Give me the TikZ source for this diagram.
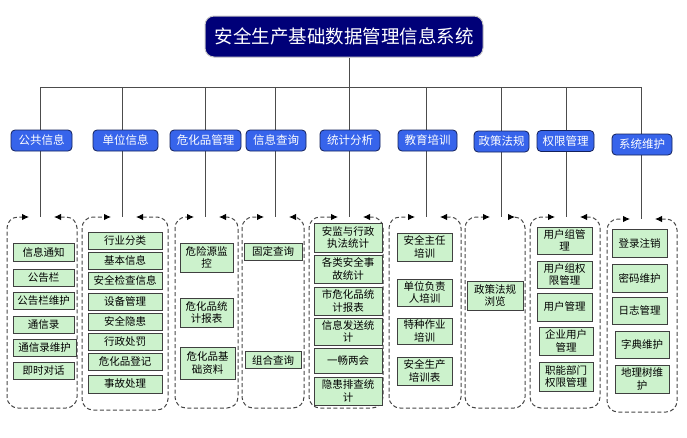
\documentclass[tikz,border=0pt]{standalone}
\usepackage{fontspec}
\setmainfont{Noto Sans CJK SC}
\newfontfamily\hei{Noto Sans CJK SC}
\usetikzlibrary{arrows.meta}
\definecolor{navy}{RGB}{0,0,120}
\definecolor{catf}{RGB}{55,100,235}
\definecolor{catb}{RGB}{20,33,90}
\definecolor{ibf}{RGB}{204,242,204}
\newcommand\grpbox[6]{%
  \coordinate (#1) at (#6,#4);
  \draw[grp] (#6+14,#4) -- (#3,#4) -- (#3,#5) -- (#2,#5) -- (#2,#4) -- (#6-11,#4);}
\begin{document}
\begin{tikzpicture}[x=1pt,y=-1pt,
  ttl/.style={draw=gray!45, line width=1pt, fill=navy, rounded corners=9pt, text=white,
    font=\fontsize{18.5}{20}\selectfont, minimum width=278pt, minimum height=41pt, inner sep=0pt},
  cat/.style={draw=catb, line width=0.8pt, fill=catf, rounded corners=4pt, text=white,
    font=\hei\fontsize{11.5}{13}\selectfont, minimum height=21pt, inner sep=0pt},
  ib/.style={draw=black!75, line width=0.8pt, fill=ibf, font=\fontsize{10.5}{12.5}\selectfont,
    align=center, inner sep=0pt},
  conn/.style={draw=black!70, line width=0.9pt},
  grp/.style={draw=black!72, line width=1pt, dash pattern=on 4pt off 2.5pt, rounded corners=11pt,
    {Latex[length=7pt,width=6.5pt,black]}-{Latex[length=7pt,width=6.5pt,black]}}
]
\useasboundingbox (0,0) rectangle (687,437);
% title
\node[ttl] (ttl) at (344,36.5) {安全生产基础数据管理信息系统};
\coordinate (hj) at (349,87);
\draw[conn] (ttl.south -| hj) -- (hj);
% horizontal bus
\foreach \i/\x in {1/40,2/122,3/205,4/275,5/349,6/426,7/501,8/566,9/641}
  \coordinate (h\i) at (\x,87);
\draw[conn] (h1) -- (h9);
% groups
\grpbox{g1}{7}{77}{217}{408}{40}
\grpbox{g2}{82}{168}{217}{410}{122}
\grpbox{g3}{175}{238}{217}{408}{205}
\grpbox{g4}{242}{304}{217}{408}{275}
\grpbox{g5}{309}{383}{217}{408}{349}
\grpbox{g6}{389}{461}{217}{408}{426}
\grpbox{g7}{465}{525}{217}{408}{501}
\grpbox{g8}{530}{600}{217}{408}{566}
\grpbox{g9}{607}{677}{219}{412}{641}
\foreach \i in {1,...,9} \draw[conn] (h\i) -- (g\i);
% categories
\node[cat, minimum width=61pt] (c1) at (41.5,140.5) {公共信息};
\node[cat, minimum width=65pt] (c2) at (125.5,140.5) {单位信息};
\node[cat, minimum width=71pt] (c3) at (205.5,140.5) {危化品管理};
\node[cat, minimum width=60pt] (c4) at (276,140.5) {信息查询};
\node[cat, minimum width=60pt] (c5) at (350,140.5) {统计分析};
\node[cat, minimum width=59pt] (c6) at (427.5,140.5) {教育培训};
\node[cat, minimum width=55pt] (c7) at (501.5,141.5) {政策法规};
\node[cat, minimum width=57pt] (c8) at (565.5,141) {权限管理};
\node[cat, minimum width=60pt] (c9) at (642,144.5) {系统维护};
% group 1
\node[ib, minimum width=61pt, minimum height=18pt] (a1) at (43.5,252) {信息通知};
\node[ib, minimum width=61pt, minimum height=17pt] (a2) at (43.5,277.5) {公告栏};
\node[ib, minimum width=61pt, minimum height=17pt] (a3) at (43.5,301) {公告栏维护};
\node[ib, minimum width=61pt, minimum height=17pt] (a4) at (43.5,324.5) {通信录};
\node[ib, minimum width=63pt, minimum height=17pt] (a5) at (44.5,347.5) {通信录维护};
\node[ib, minimum width=61pt, minimum height=17pt] (a6) at (43.5,371) {即时对话};
% group 2
\node[ib, minimum width=74pt, minimum height=17pt] (b1) at (125,240.5) {行业分类};
\node[ib, minimum width=74pt, minimum height=17pt] (b2) at (125,260.5) {基本信息};
\node[ib, minimum width=74pt, minimum height=17pt] (b3) at (125,280.5) {安全检查信息};
\node[ib, minimum width=74pt, minimum height=17pt] (b4) at (125,301.5) {设备管理};
\node[ib, minimum width=74pt, minimum height=17pt] (b5) at (125,321.5) {安全隐患};
\node[ib, minimum width=74pt, minimum height=17pt] (b6) at (125,342) {行政处罚};
\node[ib, minimum width=74pt, minimum height=17pt] (b7) at (125,362) {危化品登记};
\node[ib, minimum width=74pt, minimum height=18pt] (b8) at (125,384) {事故处理};
% group 3
\node[ib, minimum width=53pt, minimum height=29pt] (d1) at (206.5,257.5) {危险源监\\控};
\node[ib, minimum width=53pt, minimum height=29pt] (d2) at (206.5,312.5) {危化品统\\计报表};
\node[ib, minimum width=55pt, minimum height=32pt] (d3) at (207.5,363) {危化品基\\础资料};
% group 4
\node[ib, minimum width=58pt, minimum height=17pt] (e1) at (273,251.5) {固定查询};
\node[ib, minimum width=56pt, minimum height=17pt] (e2) at (273,360) {组合查询};
% group 5
\node[ib, minimum width=68pt, minimum height=29pt] (f1) at (348,237.5) {安监与行政\\执法统计};
\node[ib, minimum width=68pt, minimum height=28pt] (f2) at (348,269) {各类安全事\\故统计};
\node[ib, minimum width=68pt, minimum height=28pt] (f3) at (348,301) {市危化品统\\计报表};
\node[ib, minimum width=68pt, minimum height=27pt] (f4) at (348,331.5) {信息发送统\\计};
\node[ib, minimum width=68pt, minimum height=25pt] (f5) at (348,360.5) {一畅两会};
\node[ib, minimum width=68pt, minimum height=28pt] (f6) at (348,391) {隐患排查统\\计};
% group 6
\node[ib, minimum width=55pt, minimum height=28pt] (k1) at (424.5,247) {安全主任\\培训};
\node[ib, minimum width=55pt, minimum height=27pt] (k2) at (424.5,292.5) {单位负责\\人培训};
\node[ib, minimum width=55pt, minimum height=26pt] (k3) at (424.5,331) {特种作业\\培训};
\node[ib, minimum width=55pt, minimum height=28pt] (k4) at (424.5,371) {安全生产\\培训表};
% group 7
\node[ib, minimum width=56pt, minimum height=29pt] (m1) at (495,295.5) {政策法规\\浏览};
% group 8
\node[ib, minimum width=55pt, minimum height=27pt] (p1) at (564.5,240.5) {用户组管\\理};
\node[ib, minimum width=55pt, minimum height=27pt] (p2) at (564.5,274.5) {用户组权\\限管理};
\node[ib, minimum width=55pt, minimum height=28pt] (p3) at (564.5,307) {用户管理};
\node[ib, minimum width=54pt, minimum height=28pt] (p4) at (566,341) {企业用户\\管理};
\node[ib, minimum width=54pt, minimum height=29pt] (p5) at (566,376.5) {职能部门\\权限管理};
% group 9
\node[ib, minimum width=55pt, minimum height=28pt] (q1) at (639.5,243) {登录注销};
\node[ib, minimum width=55pt, minimum height=28pt] (q2) at (639.5,278) {密码维护};
\node[ib, minimum width=55pt, minimum height=27pt] (q3) at (639.5,310.5) {日志管理};
\node[ib, minimum width=54pt, minimum height=27pt] (q4) at (642,344.5) {字典维护};
\node[ib, minimum width=54pt, minimum height=28pt] (q5) at (642,379) {地理树维\\护};
\end{tikzpicture}
\end{document}
